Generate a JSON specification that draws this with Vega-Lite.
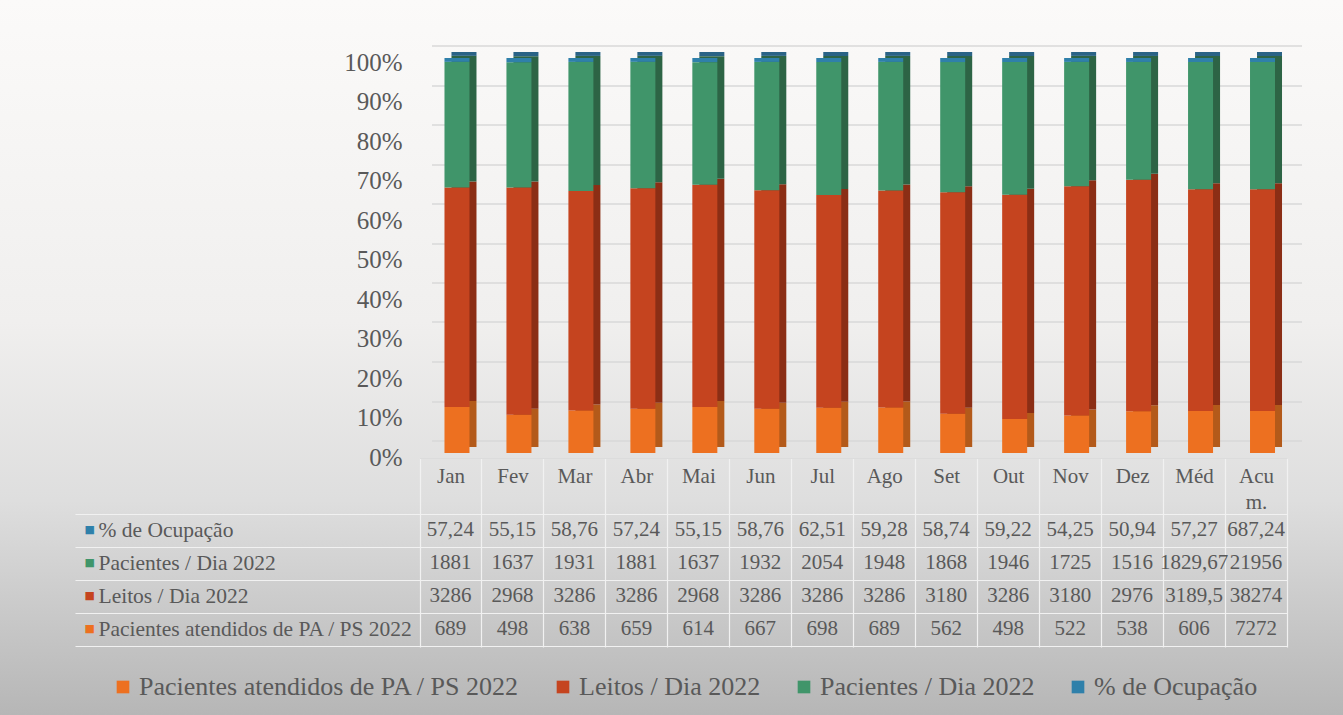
{
  "$schema": "https://vega.github.io/schema/vega-lite/v6.json",
  "width": 1343,
  "height": 715,
  "autosize": {"type": "none"},
  "padding": 0,
  "background": "#fbfaf9",
  "config": {
    "view": {"stroke": null, "fill": {"gradient": "linear", "x1": 0, "y1": 0, "x2": 0, "y2": 1, "stops": [{"offset": 0, "color": "#fbfaf9"}, {"offset": 0.45, "color": "#f0efee"}, {"offset": 0.7, "color": "#dedede"}, {"offset": 1, "color": "#b6b6b6"}]}},
    "locale": {"number": {"decimal": ",", "thousands": ".", "grouping": [3], "currency": ["R$", ""]}},
    "font": "Liberation Serif"
  },
  "data": {"values": [
    {"mes": "Jan", "serie": "Pacientes atendidos de PA / PS 2022", "ordem": 1, "valor": 689},
    {"mes": "Jan", "serie": "Leitos / Dia 2022", "ordem": 2, "valor": 3286},
    {"mes": "Jan", "serie": "Pacientes / Dia 2022", "ordem": 3, "valor": 1881},
    {"mes": "Jan", "serie": "% de Ocupação", "ordem": 4, "valor": 57.24},
    {"mes": "Fev", "serie": "Pacientes atendidos de PA / PS 2022", "ordem": 1, "valor": 498},
    {"mes": "Fev", "serie": "Leitos / Dia 2022", "ordem": 2, "valor": 2968},
    {"mes": "Fev", "serie": "Pacientes / Dia 2022", "ordem": 3, "valor": 1637},
    {"mes": "Fev", "serie": "% de Ocupação", "ordem": 4, "valor": 55.15},
    {"mes": "Mar", "serie": "Pacientes atendidos de PA / PS 2022", "ordem": 1, "valor": 638},
    {"mes": "Mar", "serie": "Leitos / Dia 2022", "ordem": 2, "valor": 3286},
    {"mes": "Mar", "serie": "Pacientes / Dia 2022", "ordem": 3, "valor": 1931},
    {"mes": "Mar", "serie": "% de Ocupação", "ordem": 4, "valor": 58.76},
    {"mes": "Abr", "serie": "Pacientes atendidos de PA / PS 2022", "ordem": 1, "valor": 659},
    {"mes": "Abr", "serie": "Leitos / Dia 2022", "ordem": 2, "valor": 3286},
    {"mes": "Abr", "serie": "Pacientes / Dia 2022", "ordem": 3, "valor": 1881},
    {"mes": "Abr", "serie": "% de Ocupação", "ordem": 4, "valor": 57.24},
    {"mes": "Mai", "serie": "Pacientes atendidos de PA / PS 2022", "ordem": 1, "valor": 614},
    {"mes": "Mai", "serie": "Leitos / Dia 2022", "ordem": 2, "valor": 2968},
    {"mes": "Mai", "serie": "Pacientes / Dia 2022", "ordem": 3, "valor": 1637},
    {"mes": "Mai", "serie": "% de Ocupação", "ordem": 4, "valor": 55.15},
    {"mes": "Jun", "serie": "Pacientes atendidos de PA / PS 2022", "ordem": 1, "valor": 667},
    {"mes": "Jun", "serie": "Leitos / Dia 2022", "ordem": 2, "valor": 3286},
    {"mes": "Jun", "serie": "Pacientes / Dia 2022", "ordem": 3, "valor": 1932},
    {"mes": "Jun", "serie": "% de Ocupação", "ordem": 4, "valor": 58.76},
    {"mes": "Jul", "serie": "Pacientes atendidos de PA / PS 2022", "ordem": 1, "valor": 698},
    {"mes": "Jul", "serie": "Leitos / Dia 2022", "ordem": 2, "valor": 3286},
    {"mes": "Jul", "serie": "Pacientes / Dia 2022", "ordem": 3, "valor": 2054},
    {"mes": "Jul", "serie": "% de Ocupação", "ordem": 4, "valor": 62.51},
    {"mes": "Ago", "serie": "Pacientes atendidos de PA / PS 2022", "ordem": 1, "valor": 689},
    {"mes": "Ago", "serie": "Leitos / Dia 2022", "ordem": 2, "valor": 3286},
    {"mes": "Ago", "serie": "Pacientes / Dia 2022", "ordem": 3, "valor": 1948},
    {"mes": "Ago", "serie": "% de Ocupação", "ordem": 4, "valor": 59.28},
    {"mes": "Set", "serie": "Pacientes atendidos de PA / PS 2022", "ordem": 1, "valor": 562},
    {"mes": "Set", "serie": "Leitos / Dia 2022", "ordem": 2, "valor": 3180},
    {"mes": "Set", "serie": "Pacientes / Dia 2022", "ordem": 3, "valor": 1868},
    {"mes": "Set", "serie": "% de Ocupação", "ordem": 4, "valor": 58.74},
    {"mes": "Out", "serie": "Pacientes atendidos de PA / PS 2022", "ordem": 1, "valor": 498},
    {"mes": "Out", "serie": "Leitos / Dia 2022", "ordem": 2, "valor": 3286},
    {"mes": "Out", "serie": "Pacientes / Dia 2022", "ordem": 3, "valor": 1946},
    {"mes": "Out", "serie": "% de Ocupação", "ordem": 4, "valor": 59.22},
    {"mes": "Nov", "serie": "Pacientes atendidos de PA / PS 2022", "ordem": 1, "valor": 522},
    {"mes": "Nov", "serie": "Leitos / Dia 2022", "ordem": 2, "valor": 3180},
    {"mes": "Nov", "serie": "Pacientes / Dia 2022", "ordem": 3, "valor": 1725},
    {"mes": "Nov", "serie": "% de Ocupação", "ordem": 4, "valor": 54.25},
    {"mes": "Dez", "serie": "Pacientes atendidos de PA / PS 2022", "ordem": 1, "valor": 538},
    {"mes": "Dez", "serie": "Leitos / Dia 2022", "ordem": 2, "valor": 2976},
    {"mes": "Dez", "serie": "Pacientes / Dia 2022", "ordem": 3, "valor": 1516},
    {"mes": "Dez", "serie": "% de Ocupação", "ordem": 4, "valor": 50.94},
    {"mes": "Méd", "serie": "Pacientes atendidos de PA / PS 2022", "ordem": 1, "valor": 606},
    {"mes": "Méd", "serie": "Leitos / Dia 2022", "ordem": 2, "valor": 3189.5},
    {"mes": "Méd", "serie": "Pacientes / Dia 2022", "ordem": 3, "valor": 1829.67},
    {"mes": "Méd", "serie": "% de Ocupação", "ordem": 4, "valor": 57.27},
    {"mes": "Acum.", "serie": "Pacientes atendidos de PA / PS 2022", "ordem": 1, "valor": 7272},
    {"mes": "Acum.", "serie": "Leitos / Dia 2022", "ordem": 2, "valor": 38274},
    {"mes": "Acum.", "serie": "Pacientes / Dia 2022", "ordem": 3, "valor": 21956},
    {"mes": "Acum.", "serie": "% de Ocupação", "ordem": 4, "valor": 687.24}
  ]},
  "encoding": {
    "x": {
      "field": "mes", "type": "nominal", "sort": null,
      "scale": {"type": "band", "domain": ["Jan", "Fev", "Mar", "Abr", "Mai", "Jun", "Jul", "Ago", "Set", "Out", "Nov", "Dez", "Méd", "Acum."], "range": [419.5, 1287], "paddingInner": 0, "paddingOuter": 0},
      "axis": {"orient": "bottom", "offset": -257, "title": null, "domain": true, "domainColor": "#dcdcdc", "domainWidth": 1.2, "grid": false, "tickBand": "extent", "tickSize": 189, "tickColor": "#f1f1f1", "tickWidth": 1.2, "labelPadding": -182, "labelBaseline": "top", "labelAngle": 0, "labelFont": "Liberation Serif", "labelFontSize": 21, "labelColor": "#595959", "labelLineHeight": 26, "labelExpr": "datum.value == 'Acum.' ? ['Acu', 'm.'] : datum.value"}
    }
  },
  "layer": [
    {
      "mark": {"type": "bar", "width": 25, "xOffset": 13.5, "yOffset": -6, "y2Offset": -6},
      "encoding": {
        "y": {"field": "valor", "type": "quantitative", "stack": "normalize", "scale": {"domain": [0, 1], "range": [453, 58], "nice": false, "zero": false},
          "axis": {"orient": "left", "offset": -444, "translate": -12, "values": [0, 0.1, 0.2, 0.3, 0.4, 0.5, 0.6, 0.7, 0.8, 0.9, 1], "labels": false, "domain": false, "grid": false, "ticks": true, "tickSize": -870, "tickColor": "#d9d9d9", "tickWidth": 1.3, "title": null}},
        "color": {"field": "serie", "type": "nominal", "scale": {"domain": ["Pacientes atendidos de PA / PS 2022", "Leitos / Dia 2022", "Pacientes / Dia 2022", "% de Ocupação"], "range": ["#b35a1a", "#8b2e15", "#2d6445", "#2a6386"]}, "legend": null},
        "order": {"field": "ordem", "type": "quantitative"}
      }
    },
    {
      "mark": {"type": "bar", "width": 25, "xOffset": 6.5},
      "encoding": {
        "y": {"field": "valor", "type": "quantitative", "stack": "normalize", "scale": {"domain": [0, 1], "range": [453, 58], "nice": false, "zero": false},
          "axis": {"orient": "left", "offset": -416, "values": [0, 0.1, 0.2, 0.3, 0.4, 0.5, 0.6, 0.7, 0.8, 0.9, 1], "format": ".0%", "ticks": false, "domain": false, "grid": false, "labelPadding": 14, "labelAlign": "right", "labelBaseline": "middle", "labelFont": "Liberation Serif", "labelFontSize": 25, "labelColor": "#595959", "labelOffset": 4, "title": null}},
        "color": {"field": "serie", "type": "nominal", "scale": {"domain": ["Pacientes atendidos de PA / PS 2022", "Leitos / Dia 2022", "Pacientes / Dia 2022", "% de Ocupação"], "range": ["#ed7020", "#c5441f", "#40956a", "#2f80aa"]},
          "legend": {"orient": "none", "legendX": 110, "legendY": 674, "direction": "horizontal", "title": null, "symbolType": "square", "symbolSize": 160, "symbolStrokeWidth": 0, "labelFont": "Liberation Serif", "labelFontSize": 26, "labelColor": "#595959", "labelOffset": 3, "columnPadding": 30, "labelLimit": 600}},
        "order": {"field": "ordem", "type": "quantitative"}
      }
    },
    {
      "mark": {"type": "text", "font": "Liberation Serif", "fontSize": 21, "fill": "#595959", "baseline": "middle", "align": "center"},
      "encoding": {
        "y": {"field": "serie", "type": "nominal", "scale": {"type": "band", "domain": ["% de Ocupação", "Pacientes / Dia 2022", "Leitos / Dia 2022", "Pacientes atendidos de PA / PS 2022"], "range": [513.5, 645.5], "paddingInner": 0, "paddingOuter": 0},
          "axis": {"orient": "left", "offset": -75, "title": null, "domain": false, "grid": false, "tickBand": "extent", "tickSize": -1212, "tickColor": "#f1f1f1", "tickWidth": 1.2, "labelAlign": "left", "labelPadding": 1189, "labelBaseline": "middle", "labelFont": "Liberation Serif", "labelFontSize": 21.5, "labelColor": "#595959", "labelLimit": 600}},
        "text": {"field": "valor", "type": "quantitative", "format": "~g"}
      }
    },
    {
      "mark": {"type": "text", "opacity": 0},
      "encoding": {
        "y": {"field": "serie", "type": "nominal", "scale": {"type": "band", "domain": ["% de Ocupação", "Pacientes / Dia 2022", "Leitos / Dia 2022", "Pacientes atendidos de PA / PS 2022"], "range": [513.5, 645.5], "paddingInner": 0, "paddingOuter": 0},
          "axis": {"orient": "left", "offset": -84, "title": null, "domain": false, "grid": false, "ticks": false, "labelAlign": "left", "labelPadding": 0, "labelBaseline": "middle", "labelExpr": "'■'", "labelFont": "DejaVu Sans", "labelFontSize": 11,
            "labelColor": {"condition": [{"test": "datum.value === '% de Ocupação'", "value": "#2f80aa"}, {"test": "datum.value === 'Pacientes / Dia 2022'", "value": "#40956a"}, {"test": "datum.value === 'Leitos / Dia 2022'", "value": "#c5441f"}], "value": "#ed7020"}}},
        "text": {"field": "valor", "type": "quantitative"}
      }
    }
  ],
  "resolve": {"scale": {"y": "independent", "color": "independent"}, "axis": {"y": "independent"}}
}
